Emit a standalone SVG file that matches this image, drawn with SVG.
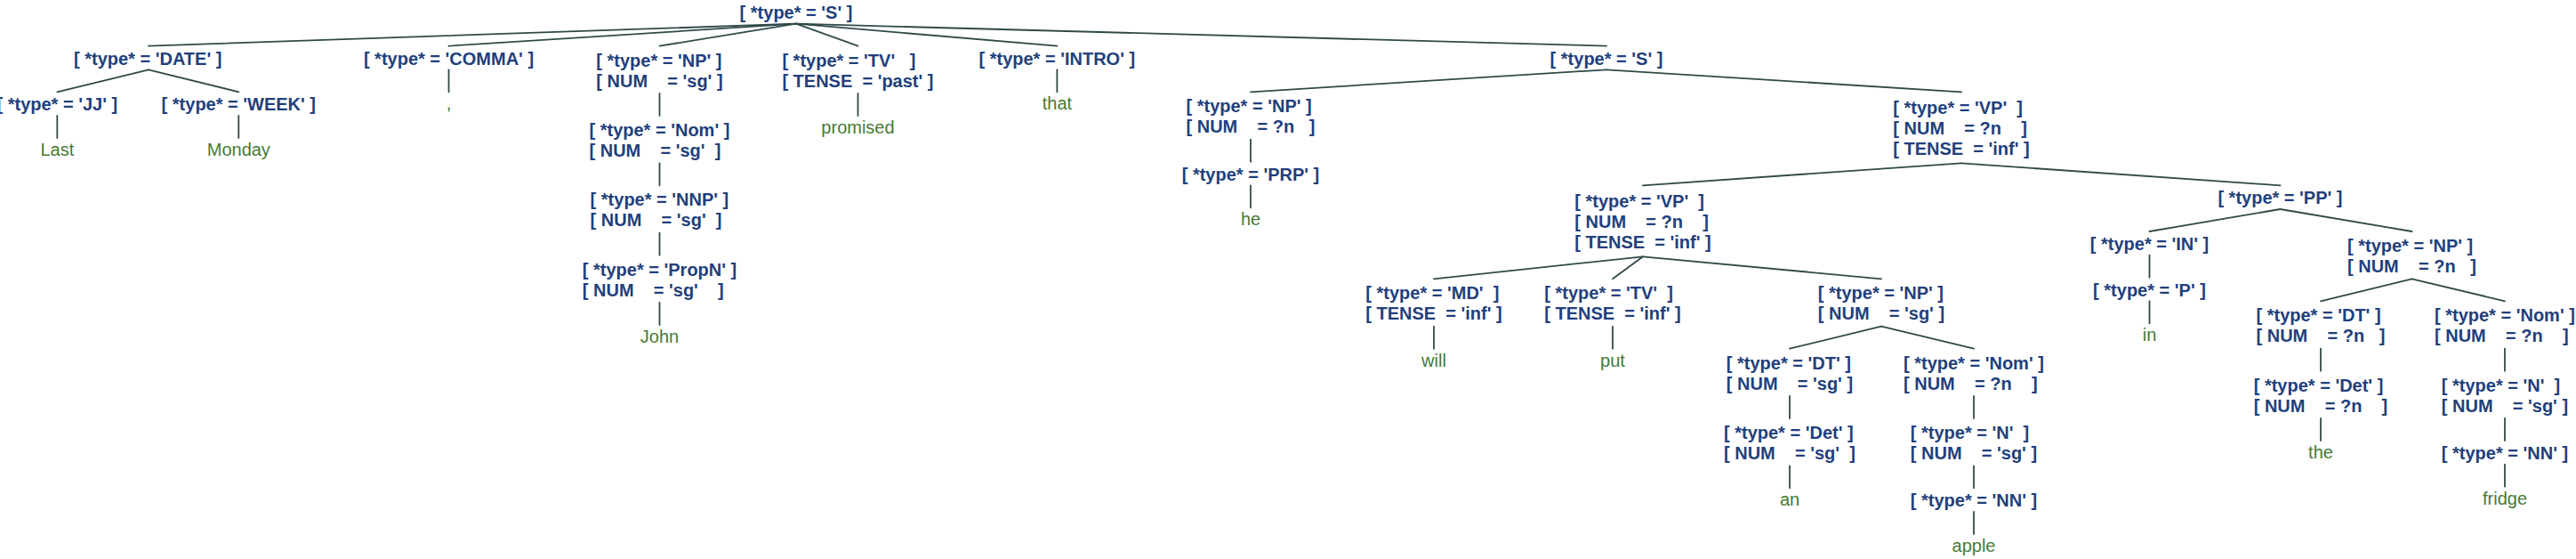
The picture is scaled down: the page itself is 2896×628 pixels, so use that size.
<svg xmlns="http://www.w3.org/2000/svg" width="2896" height="628" viewBox="0 0 2896 628">
<style>
.n{font-family:"Liberation Sans",Arial,Helvetica,sans-serif;font-weight:bold;font-size:20px;fill:#223f7c;white-space:pre}
.w{font-family:"Liberation Sans",Arial,Helvetica,sans-serif;font-size:20px;fill:#467a35;text-anchor:middle}
#connectors line{stroke:#2f4a48;stroke-width:1.8;stroke-linecap:round}
</style>
<rect width="2896" height="628" fill="#ffffff"/>
<g id="connectors">
<line x1="895" y1="26.67" x2="167" y2="51.67"/>
<line x1="895" y1="26.67" x2="504.5" y2="51.67"/>
<line x1="895" y1="26.67" x2="741.5" y2="51.67"/>
<line x1="895" y1="26.67" x2="964.5" y2="51.67"/>
<line x1="895" y1="26.67" x2="1188.4" y2="51.67"/>
<line x1="895" y1="26.67" x2="1806" y2="51.67"/>
<line x1="167" y1="78.33" x2="64.3" y2="103.33"/>
<line x1="167" y1="78.33" x2="268.3" y2="103.33"/>
<line x1="64.3" y1="130" x2="64.3" y2="155"/>
<line x1="268.3" y1="130" x2="268.3" y2="155"/>
<line x1="504.5" y1="78.33" x2="504.5" y2="103.33"/>
<line x1="741.5" y1="105" x2="741.5" y2="130"/>
<line x1="741.5" y1="183.33" x2="741.5" y2="208.33"/>
<line x1="741.5" y1="261.67" x2="741.5" y2="286.67"/>
<line x1="741.5" y1="340" x2="741.5" y2="365"/>
<line x1="964.5" y1="105" x2="964.5" y2="130"/>
<line x1="1188.4" y1="78.33" x2="1188.4" y2="103.33"/>
<line x1="1806" y1="78.33" x2="1406" y2="103.33"/>
<line x1="1806" y1="78.33" x2="2205" y2="103.33"/>
<line x1="1406" y1="156.67" x2="1406" y2="181.67"/>
<line x1="1406" y1="208.33" x2="1406" y2="233.33"/>
<line x1="2205" y1="183.33" x2="1847" y2="208.33"/>
<line x1="2205" y1="183.33" x2="2563.5" y2="208.33"/>
<line x1="1847" y1="288.33" x2="1612" y2="313.33"/>
<line x1="1847" y1="288.33" x2="1813" y2="313.33"/>
<line x1="1847" y1="288.33" x2="2115" y2="313.33"/>
<line x1="1612" y1="366.67" x2="1612" y2="391.67"/>
<line x1="1813" y1="366.67" x2="1813" y2="391.67"/>
<line x1="2115" y1="366.67" x2="2012" y2="391.67"/>
<line x1="2115" y1="366.67" x2="2219" y2="391.67"/>
<line x1="2012" y1="445" x2="2012" y2="470"/>
<line x1="2012" y1="523.33" x2="2012" y2="548.33"/>
<line x1="2219" y1="445" x2="2219" y2="470"/>
<line x1="2219" y1="523.33" x2="2219" y2="548.33"/>
<line x1="2219" y1="575" x2="2219" y2="600"/>
<line x1="2563.5" y1="235" x2="2416.5" y2="260"/>
<line x1="2563.5" y1="235" x2="2711.5" y2="260"/>
<line x1="2416.5" y1="286.67" x2="2416.5" y2="311.67"/>
<line x1="2416.5" y1="338.33" x2="2416.5" y2="363.33"/>
<line x1="2711.5" y1="313.33" x2="2609" y2="338.33"/>
<line x1="2711.5" y1="313.33" x2="2816" y2="338.33"/>
<line x1="2609" y1="391.67" x2="2609" y2="416.67"/>
<line x1="2609" y1="470" x2="2609" y2="495"/>
<line x1="2816" y1="391.67" x2="2816" y2="416.67"/>
<line x1="2816" y1="470" x2="2816" y2="495"/>
<line x1="2816" y1="521.67" x2="2816" y2="546.67"/>
</g>
<g id="n-root"><text class="n" xml:space="preserve" x="831.6" y="21">[ *type* = 'S' ]</text></g>
<g id="n-date"><text class="n" xml:space="preserve" x="83" y="72.7">[ *type* = 'DATE' ]</text></g>
<g id="n-jj"><text class="n" xml:space="preserve" x="-3.5" y="124.3">[ *type* = 'JJ' ]</text></g>
<g id="w-last"><text class="w" x="64.3" y="175">Last</text></g>
<g id="n-week"><text class="n" xml:space="preserve" x="181.6" y="124.3">[ *type* = 'WEEK' ]</text></g>
<g id="w-monday"><text class="w" x="268.3" y="175">Monday</text></g>
<g id="n-comma"><text class="n" xml:space="preserve" x="408.9" y="72.7">[ *type* = 'COMMA' ]</text></g>
<g id="w-comma"><text class="w" x="504.5" y="123.3">,</text></g>
<g id="n-np1"><text class="n" xml:space="preserve" x="670.3" y="74.5">[ *type* = 'NP' ]</text><text class="n" xml:space="preserve" x="670.3" y="97.7">[ NUM    = 'sg' ]</text></g>
<g id="n-nom1"><text class="n" xml:space="preserve" x="662.5" y="152.8">[ *type* = 'Nom' ]</text><text class="n" xml:space="preserve" x="662.5" y="176">[ NUM    = 'sg'  ]</text></g>
<g id="n-nnp"><text class="n" xml:space="preserve" x="663.6" y="231.1">[ *type* = 'NNP' ]</text><text class="n" xml:space="preserve" x="663.6" y="254.3">[ NUM    = 'sg'  ]</text></g>
<g id="n-propn"><text class="n" xml:space="preserve" x="654.8" y="309.5">[ *type* = 'PropN' ]</text><text class="n" xml:space="preserve" x="654.8" y="332.7">[ NUM    = 'sg'    ]</text></g>
<g id="w-john"><text class="w" x="741.5" y="385">John</text></g>
<g id="n-tv1"><text class="n" xml:space="preserve" x="879.4" y="74.5">[ *type* = 'TV'   ]</text><text class="n" xml:space="preserve" x="879.4" y="97.7">[ TENSE  = 'past' ]</text></g>
<g id="w-promised"><text class="w" x="964.5" y="150">promised</text></g>
<g id="n-intro"><text class="n" xml:space="preserve" x="1100.5" y="72.7">[ *type* = 'INTRO' ]</text></g>
<g id="w-that"><text class="w" x="1188.4" y="123.3">that</text></g>
<g id="n-s2"><text class="n" xml:space="preserve" x="1742.6" y="72.7">[ *type* = 'S' ]</text></g>
<g id="n-np2"><text class="n" xml:space="preserve" x="1333.5" y="126.1">[ *type* = 'NP' ]</text><text class="n" xml:space="preserve" x="1333.5" y="149.3">[ NUM    = ?n   ]</text></g>
<g id="n-prp"><text class="n" xml:space="preserve" x="1328.7" y="202.7">[ *type* = 'PRP' ]</text></g>
<g id="w-he"><text class="w" x="1406" y="253.3">he</text></g>
<g id="n-vp1"><text class="n" xml:space="preserve" x="2128.3" y="127.8">[ *type* = 'VP'  ]</text><text class="n" xml:space="preserve" x="2128.3" y="151">[ NUM    = ?n    ]</text><text class="n" xml:space="preserve" x="2128.3" y="174.2">[ TENSE  = 'inf' ]</text></g>
<g id="n-vp2"><text class="n" xml:space="preserve" x="1770.3" y="232.8">[ *type* = 'VP'  ]</text><text class="n" xml:space="preserve" x="1770.3" y="256">[ NUM    = ?n    ]</text><text class="n" xml:space="preserve" x="1770.3" y="279.2">[ TENSE  = 'inf' ]</text></g>
<g id="n-md"><text class="n" xml:space="preserve" x="1535.3" y="336.1">[ *type* = 'MD'  ]</text><text class="n" xml:space="preserve" x="1535.3" y="359.3">[ TENSE  = 'inf' ]</text></g>
<g id="w-will"><text class="w" x="1612" y="411.7">will</text></g>
<g id="n-tv2"><text class="n" xml:space="preserve" x="1736.3" y="336.1">[ *type* = 'TV'  ]</text><text class="n" xml:space="preserve" x="1736.3" y="359.3">[ TENSE  = 'inf' ]</text></g>
<g id="w-put"><text class="w" x="1813" y="411.7">put</text></g>
<g id="n-np3"><text class="n" xml:space="preserve" x="2043.8" y="336.1">[ *type* = 'NP' ]</text><text class="n" xml:space="preserve" x="2043.8" y="359.3">[ NUM    = 'sg' ]</text></g>
<g id="n-dt1"><text class="n" xml:space="preserve" x="1940.8" y="414.5">[ *type* = 'DT' ]</text><text class="n" xml:space="preserve" x="1940.8" y="437.7">[ NUM    = 'sg' ]</text></g>
<g id="n-det1"><text class="n" xml:space="preserve" x="1938" y="492.8">[ *type* = 'Det' ]</text><text class="n" xml:space="preserve" x="1938" y="516">[ NUM    = 'sg'  ]</text></g>
<g id="w-an"><text class="w" x="2012" y="568.3">an</text></g>
<g id="n-nom2"><text class="n" xml:space="preserve" x="2140" y="414.5">[ *type* = 'Nom' ]</text><text class="n" xml:space="preserve" x="2140" y="437.7">[ NUM    = ?n    ]</text></g>
<g id="n-n1"><text class="n" xml:space="preserve" x="2147.8" y="492.8">[ *type* = 'N'  ]</text><text class="n" xml:space="preserve" x="2147.8" y="516">[ NUM    = 'sg' ]</text></g>
<g id="n-nn1"><text class="n" xml:space="preserve" x="2147.8" y="569.3">[ *type* = 'NN' ]</text></g>
<g id="w-apple"><text class="w" x="2219" y="620">apple</text></g>
<g id="n-pp"><text class="n" xml:space="preserve" x="2493.4" y="229.3">[ *type* = 'PP' ]</text></g>
<g id="n-in"><text class="n" xml:space="preserve" x="2349.8" y="281">[ *type* = 'IN' ]</text></g>
<g id="n-p"><text class="n" xml:space="preserve" x="2353.1" y="332.7">[ *type* = 'P' ]</text></g>
<g id="w-in"><text class="w" x="2416.5" y="383.3">in</text></g>
<g id="n-np4"><text class="n" xml:space="preserve" x="2639" y="282.8">[ *type* = 'NP' ]</text><text class="n" xml:space="preserve" x="2639" y="306">[ NUM    = ?n   ]</text></g>
<g id="n-dt2"><text class="n" xml:space="preserve" x="2536.5" y="361.1">[ *type* = 'DT' ]</text><text class="n" xml:space="preserve" x="2536.5" y="384.3">[ NUM    = ?n   ]</text></g>
<g id="n-det2"><text class="n" xml:space="preserve" x="2533.7" y="439.5">[ *type* = 'Det' ]</text><text class="n" xml:space="preserve" x="2533.7" y="462.7">[ NUM    = ?n    ]</text></g>
<g id="w-the"><text class="w" x="2609" y="515">the</text></g>
<g id="n-nom3"><text class="n" xml:space="preserve" x="2737" y="361.1">[ *type* = 'Nom' ]</text><text class="n" xml:space="preserve" x="2737" y="384.3">[ NUM    = ?n    ]</text></g>
<g id="n-n2"><text class="n" xml:space="preserve" x="2744.8" y="439.5">[ *type* = 'N'  ]</text><text class="n" xml:space="preserve" x="2744.8" y="462.7">[ NUM    = 'sg' ]</text></g>
<g id="n-nn2"><text class="n" xml:space="preserve" x="2744.8" y="516">[ *type* = 'NN' ]</text></g>
<g id="w-fridge"><text class="w" x="2816" y="566.7">fridge</text></g>
</svg>
